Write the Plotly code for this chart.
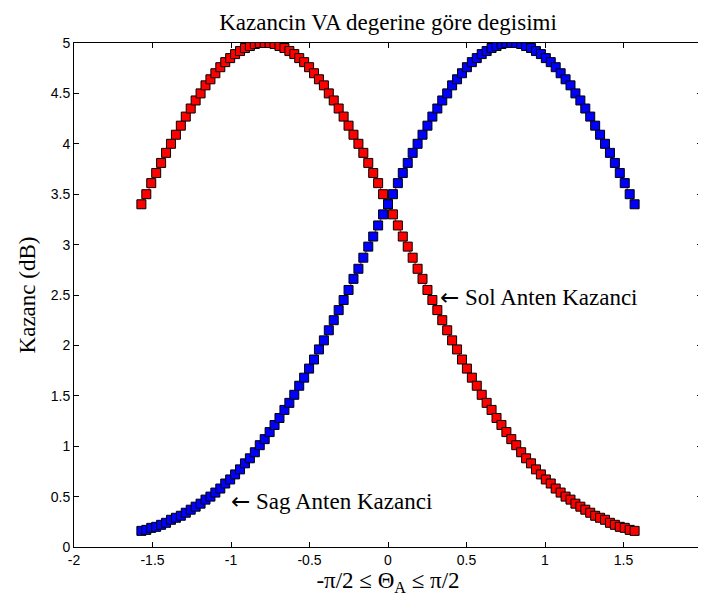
import plotly.graph_objects as go

# Sample angles (rad), from -pi/2 to pi/2
theta = [-1.5708, -1.5394, -1.5080, -1.4765, -1.4451, -1.4137, -1.3823, -1.3509, -1.3195, -1.2881,
         -1.2566, -1.2252, -1.1938, -1.1624, -1.1310, -1.0996, -1.0681, -1.0367, -1.0053, -0.9739,
         -0.9425, -0.9111, -0.8796, -0.8482, -0.8168, -0.7854, -0.7540, -0.7226, -0.6912, -0.6597,
         -0.6283, -0.5969, -0.5655, -0.5341, -0.5027, -0.4712, -0.4398, -0.4084, -0.3770, -0.3456,
         -0.3142, -0.2827, -0.2513, -0.2199, -0.1885, -0.1571, -0.1257, -0.0942, -0.0628, -0.0314,
         0.0000, 0.0314, 0.0628, 0.0942, 0.1257, 0.1571, 0.1885, 0.2199, 0.2513, 0.2827,
         0.3142, 0.3456, 0.3770, 0.4084, 0.4398, 0.4712, 0.5027, 0.5341, 0.5655, 0.5969,
         0.6283, 0.6597, 0.6912, 0.7226, 0.7540, 0.7854, 0.8168, 0.8482, 0.8796, 0.9111,
         0.9425, 0.9739, 1.0053, 1.0367, 1.0681, 1.0996, 1.1310, 1.1624, 1.1938, 1.2252,
         1.2566, 1.2881, 1.3195, 1.3509, 1.3823, 1.4137, 1.4451, 1.4765, 1.5080, 1.5394,
         1.5708]

# Sag anten kazanci (blue)
sag = [0.16, 0.17, 0.19, 0.20, 0.22, 0.24, 0.27, 0.29, 0.31, 0.34,
       0.37, 0.40, 0.43, 0.47, 0.50, 0.54, 0.58, 0.63, 0.67, 0.72,
       0.77, 0.83, 0.88, 0.94, 1.01, 1.07, 1.14, 1.21, 1.28, 1.36,
       1.43, 1.51, 1.60, 1.68, 1.77, 1.86, 1.96, 2.05, 2.15, 2.25,
       2.35, 2.45, 2.55, 2.66, 2.76, 2.87, 2.98, 3.08, 3.19, 3.30,
       3.40, 3.50, 3.61, 3.71, 3.81, 3.91, 4.00, 4.09, 4.18, 4.27,
       4.35, 4.43, 4.50, 4.58, 4.64, 4.70, 4.76, 4.81, 4.85, 4.89,
       4.92, 4.95, 4.97, 4.99, 5.00, 5.00, 5.00, 4.99, 4.97, 4.95,
       4.92, 4.89, 4.85, 4.81, 4.76, 4.70, 4.64, 4.58, 4.50, 4.43,
       4.35, 4.27, 4.18, 4.09, 4.00, 3.91, 3.81, 3.71, 3.61, 3.50,
       3.40]

# Sol anten kazanci (red)
sol = [3.40, 3.50, 3.61, 3.71, 3.81, 3.91, 4.00, 4.09, 4.18, 4.27,
       4.35, 4.43, 4.50, 4.58, 4.64, 4.70, 4.76, 4.81, 4.85, 4.89,
       4.92, 4.95, 4.97, 4.99, 5.00, 5.00, 5.00, 4.99, 4.97, 4.95,
       4.92, 4.89, 4.85, 4.81, 4.76, 4.70, 4.64, 4.58, 4.50, 4.43,
       4.35, 4.27, 4.18, 4.09, 4.00, 3.91, 3.81, 3.71, 3.61, 3.50,
       3.40, 3.30, 3.19, 3.08, 2.98, 2.87, 2.76, 2.66, 2.55, 2.45,
       2.35, 2.25, 2.15, 2.05, 1.96, 1.86, 1.77, 1.68, 1.60, 1.51,
       1.43, 1.36, 1.28, 1.21, 1.14, 1.07, 1.01, 0.94, 0.88, 0.83,
       0.77, 0.72, 0.67, 0.63, 0.58, 0.54, 0.50, 0.47, 0.43, 0.40,
       0.37, 0.34, 0.31, 0.29, 0.27, 0.24, 0.22, 0.20, 0.19, 0.17,
       0.16]

x_tickvals = [-2, -1.5, -1, -0.5, 0, 0.5, 1, 1.5, 2]
x_ticktext = ["-2", "-1.5", "-1", "-0.5", "0", "0.5", "1", "1.5", "2"]
y_tickvals = [0, 0.5, 1, 1.5, 2, 2.5, 3, 3.5, 4, 4.5, 5]
y_ticktext = ["0", "0.5", "1", "1.5", "2", "2.5", "3", "3.5", "4", "4.5", "5"]

serif = "Liberation Serif, Times New Roman, serif"
sans = "Liberation Sans, Arial, sans-serif"
arrow = '<span style="font-family:DejaVu Sans">\u2190</span> '

fig = go.Figure()
fig.add_trace(go.Scatter(
    x=theta, y=sol, mode="lines+markers", name="Sol Anten Kazanci",
    line=dict(color="#ff0000", width=1),
    marker=dict(symbol="square", size=9, color="#ff0000", line=dict(color="black", width=1)),
))
fig.add_trace(go.Scatter(
    x=theta, y=sag, mode="lines+markers", name="Sag Anten Kazanci",
    line=dict(color="#ff0000", width=1),
    marker=dict(symbol="square", size=9, color="#0000ff", line=dict(color="black", width=1)),
))

fig.add_annotation(x=0.32, y=2.48, text=arrow + "Sol Anten Kazanci", showarrow=False,
                   xanchor="left", yanchor="middle", font=dict(family=serif, size=23, color="black"))
fig.add_annotation(x=-1.01, y=0.46, text=arrow + "Sag Anten Kazanci", showarrow=False,
                   xanchor="left", yanchor="middle", font=dict(family=serif, size=23, color="black"))

axis_common = dict(showline=True, linecolor="black", linewidth=1, mirror="ticks",
                   ticks="inside", ticklen=5, tickcolor="black", showgrid=False, zeroline=False,
                   tickfont=dict(family=sans, size=14, color="black"))

fig.update_layout(
    width=706, height=599,
    margin=dict(l=66, r=8, t=35, b=60),
    paper_bgcolor="white", plot_bgcolor="white",
    showlegend=False,
    title=dict(text="Kazancin VA degerine göre degisimi", x=0.5, xanchor="center",
               xref="paper", y=1 - 14 / 599, yref="container", yanchor="middle",
               font=dict(family=serif, size=23, color="black")),
    xaxis=dict(range=[-2, 2], tickvals=x_tickvals, ticktext=x_ticktext,
               title=dict(text="-\u03c0/2 \u2264 \u0398<sub>A</sub> \u2264 \u03c0/2",
                          font=dict(family=serif, size=23, color="black"), standoff=2),
               **axis_common),
    yaxis=dict(range=[0, 5], tickvals=y_tickvals, ticktext=y_ticktext,
               title=dict(text="Kazanc (dB)", font=dict(family=serif, size=23, color="black"),
                          standoff=8),
               **axis_common),
)

fig.write_html("out.html")
